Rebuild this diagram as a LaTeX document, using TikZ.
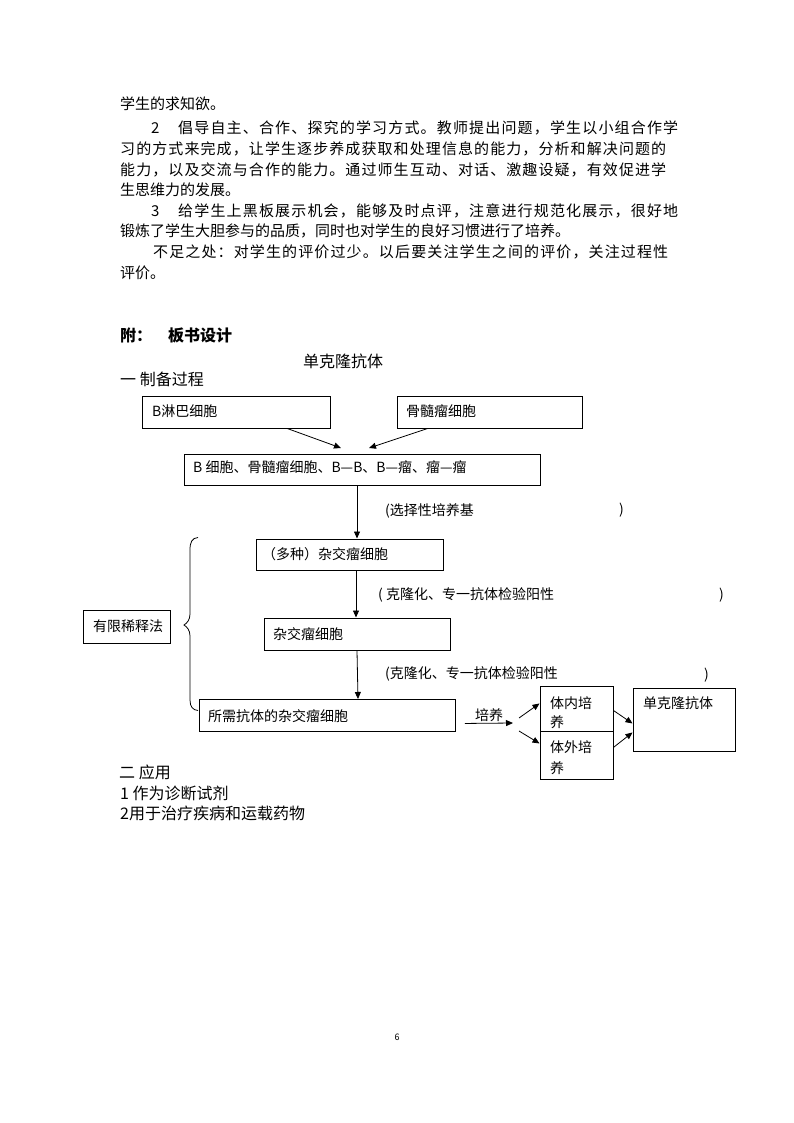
\documentclass[tikz,border=0pt]{standalone}
\usepackage{fontspec}
\setmainfont{Noto Sans CJK SC}
\usetikzlibrary{arrows.meta}
\newcommand\fsz[1]{\fontsize{#1pt}{#1pt}\selectfont}
\def\jline#1#2{\hbox to #1{\jlA#2\relax}}
\def\jlA#1{#1\jlB}
\def\jlB#1{\ifx\relax#1\else\hfil#1\expandafter\jlB\fi}
\begin{document}
\begin{tikzpicture}[x=1pt,y=-1pt,
  box/.style={draw, line width=0.9pt, anchor=north west, inner sep=0pt},
  txt/.style={anchor=west, inner sep=0pt, font=\fsz{15}},
  btxt/.style={anchor=west, inner sep=0pt, font=\fsz{14}},
  arr/.style={line width=0.8pt, -{Triangle[length=7pt,width=6pt]}},
]
\useasboundingbox[fill=white] (0,0) rectangle (794,1123);

% ---- body text ----
\node[txt] (p1) at (120,104) {学生的求知欲。};
\node[txt] (p2n) at (151,128) {2};
\node[txt] (p2) at (178,128) {\jline{500pt}{倡导自主、合作、探究的学习方式。教师提出问题，学生以小组合作学}};
\node[txt] (p3) at (120,149) {\jline{546pt}{习的方式来完成，让学生逐步养成获取和处理信息的能力，分析和解决问题的}};
\node[txt] (p4) at (120,170) {\jline{546pt}{能力，以及交流与合作的能力。通过师生互动、对话、激趣设疑，有效促进学}};
\node[txt] (p5) at (120,190) {生思维力的发展。};
\node[txt] (p6n) at (151,211) {3};
\node[txt] (p6) at (178,211) {\jline{500pt}{给学生上黑板展示机会，能够及时点评，注意进行规范化展示，很好地}};
\node[txt] (p7) at (120,231) {锻炼了学生大胆参与的品质，同时也对学生的良好习惯进行了培养。};
\node[txt] (p8) at (153,252) {\jline{515pt}{不足之处：对学生的评价过少。以后要关注学生之间的评价，关注过程性}};
\node[txt] (p9) at (120,273) {评价。};

% ---- headings ----
\node[txt, font=\fsz{16}\bfseries] (h1) at (120,335) {附：\hspace{16pt}板书设计};
\node[txt, font=\fsz{16}] (h3) at (303,361) {单克隆抗体};
\node[txt, font=\fsz{16}] (h4) at (120,379) {一 制备过程};

% ---- boxes ----
\node[box, minimum width=188, minimum height=31.5] (bl) at (141.5,396) {};
\node[btxt] (blt) at (152,411) {B淋巴细胞};
\node[box, minimum width=185, minimum height=31.5] (mm) at (397,396) {};
\node[btxt] (mmt) at (406,411) {骨髓瘤细胞};
\node[box, minimum width=356, minimum height=31] (mix) at (183.5,453.5) {};
\node[btxt] (mixt) at (193,467) {B 细胞、骨髓瘤细胞、B—B、B—瘤、瘤—瘤};
\node[box, minimum width=186.5, minimum height=31.5] (hy1) at (256,538.5) {};
\node[btxt] (hy1t) at (262,554) {（多种）杂交瘤细胞};
\node[box, minimum width=186.5, minimum height=32.5] (hy2) at (263.5,617.5) {};
\node[btxt] (hy2t) at (273,634) {杂交瘤细胞};
\node[box, minimum width=87.5, minimum height=33] (dil) at (82.5,609.5) {};
\node[btxt] (dilt) at (93,626) {有限稀释法};
\node[box, minimum width=256, minimum height=32] (want) at (198.5,699) {};
\node[btxt] (wantt) at (208,716) {所需抗体的杂交瘤细胞};
\node[box, minimum width=73, minimum height=45] (inv) at (539.5,686) {};
\node[btxt] (inv1) at (550,703) {体内培};
\node[btxt] (inv2) at (550,722) {养};
\node[box, minimum width=73, minimum height=48] (outv) at (539.5,731) {};
\node[btxt] (out1) at (550,747) {体外培};
\node[btxt] (out2) at (550,768) {养};
\node[box, minimum width=102, minimum height=63.5] (mab) at (632.5,687.5) {};
\node[btxt] (mabt) at (643,703) {单克隆抗体};

% ---- labels ----
\node[btxt] (l1) at (385,511) {(选择性培养基};
\node[btxt] (l1r) at (619,510) {)};
\node[btxt] (l2) at (378,595) {( 克隆化、专一抗体检验阳性};
\node[btxt] (l2r) at (719,595) {)};
\node[btxt] (l3) at (385,674) {(克隆化、专一抗体检验阳性};
\node[btxt] (l3r) at (704,675) {)};
\node[btxt] (cult) at (475,715) {培养};

% ---- connectors ----
\draw[arr] ([xshift=145.5]bl.south west) -- ([xshift=157.5,yshift=5.5]mix.north west);
\draw[arr] ([xshift=31]mm.south west) -- ([xshift=185.5,yshift=5.5]mix.north west);
\draw[arr] ([xshift=173.5]mix.south west) -- ([xshift=101]hy1.north west);
\draw[arr] ([xshift=100]hy1.south west) -- ([xshift=92.5]hy2.north west);
\draw[arr] ([xshift=93.5]hy2.south west) -- ([xshift=159.5]want.north west);
\coordinate (cul) at (513,723);
\coordinate (fork) at (519,724.5);
\draw[arr] ([xshift=9.5,yshift=-8]want.east) -- (cul);
\draw[arr] ([yshift=6.5]fork) -- ([yshift=5.5]inv.west);
\draw[arr] ([yshift=-6.5]fork) -- ([yshift=12]outv.west);
\draw[arr] ([yshift=-1.5]inv.east) -- ([yshift=-3.75]mab.west);
\draw[arr] ([yshift=8]outv.east) -- ([yshift=-12.75]mab.west);

% ---- brace ----
\draw[line width=0.8pt] (198,537.5) .. controls (192,538) and (190,542) .. (190,550)
  -- (190,614) .. controls (190,620) and (187,623) .. (184,625)
  .. controls (187,627) and (190,630) .. (190,636)
  -- (190,700) .. controls (190,707) and (193,710) .. (198,710.5);

% ---- section two ----
\node[txt, font=\fsz{16}] (s1) at (119,772) {二 应用};
\node[txt, font=\fsz{16}] (s2) at (120,793) {1 作为诊断试剂};
\node[txt, font=\fsz{16}] (s3) at (120,813) {2用于治疗疾病和运载药物};

\node[font=\fsz{9}, inner sep=0pt] (pg) at (397,1037) {6};
\end{tikzpicture}
\end{document}
